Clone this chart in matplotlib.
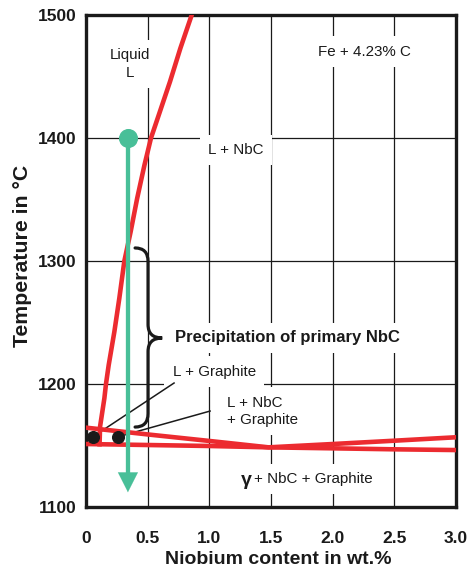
import numpy as np
import matplotlib.pyplot as plt
from matplotlib.path import Path
from matplotlib.patches import PathPatch

# liquidus (primary NbC) line, Nb wt.% vs temperature
liq_nb = [0.11, 0.114, 0.149, 0.162, 0.184, 0.230, 0.270, 0.311, 0.362,
          0.415, 0.474, 0.527, 0.590, 0.681, 0.765, 0.857]
liq_T = [1151, 1165.3, 1188.4, 1200, 1215.4, 1242.5, 1269.6, 1300, 1323.8,
         1351, 1378, 1400, 1418.7, 1445.8, 1472.9, 1500]

# the two eutectic lines near 1150 C
eut_nb = [0, 0.5, 1.0, 1.48, 2.0, 2.5, 3.0]
eutA_T = [1164.5, 1159, 1153.7, 1148.5, 1147.7, 1146.9, 1146.3]
eutB_T = [1151.2, 1150.4, 1149.6, 1148.5, 1151.2, 1153.9, 1156.7]

# cooling path of the alloy
path_nb = 0.34
path_start = 1400
path_end = 1112

# marked points and the labels they point to
dots_nb = [0.054, 0.257]
dots_T = [1157, 1157]
leader_nb = [0.714, 1.006]
leader_T = [1200.8, 1178]

# brace for "precipitation of primary NbC"
brace_nb = 0.503
brace_top = 1310.6
brace_bot = 1165
brace_mid = 1237.4

xticks = [0, 0.5, 1.0, 1.5, 2.0, 2.5, 3.0]
xticklabels = ['0', '0.5', '1.0', '1.5', '2.0', '2.5', '3.0']
yticks = [1100, 1200, 1300, 1400, 1500]

RED = '#EC2B30'
GREEN = '#48BF98'
INK = '#1A1A1A'
FONT = ['Liberation Sans', 'DejaVu Sans']

fig = plt.figure(figsize=(4.73, 5.74), dpi=100)
ax = fig.add_axes([86 / 473, 1 - 507 / 574, 370 / 473, 492 / 574])
ax.set_xlim(0, 3.0)
ax.set_ylim(1100, 1500)

# grid only on inner lines
for x in xticks[1:-1]:
    ax.axvline(x, color=INK, lw=0.9, zorder=0.5)
for y in yticks[1:-1]:
    ax.axhline(y, color=INK, lw=0.9, zorder=0.5)

for s in ax.spines.values():
    s.set_linewidth(2.4)
    s.set_color(INK)

ax.set_xticks(xticks)
ax.set_xticklabels(xticklabels)
ax.set_yticks(yticks)
ax.tick_params(length=0)
ax.tick_params(axis='x', pad=17)
ax.tick_params(axis='y', pad=7)
for lab in ax.get_xticklabels() + ax.get_yticklabels():
    lab.set_family(FONT)
    lab.set_fontweight('bold')
    lab.set_fontsize(12.5)
    lab.set_color(INK)

# phase boundaries
ax.plot(liq_nb, liq_T, color=RED, lw=3.3, solid_joinstyle='round', zorder=3)
ax.plot(eut_nb, eutA_T, color=RED, lw=3.3, solid_joinstyle='round', zorder=3)
ax.plot(eut_nb, eutB_T, color=RED, lw=3.3, solid_joinstyle='round', zorder=3)

# leader lines and dots
for xd, yd, xl, yl in zip(dots_nb, dots_T, leader_nb, leader_T):
    ax.plot([xd, xl], [yd, yl], color=INK, lw=1.1, zorder=2.5)
ax.plot(dots_nb, dots_T, 'o', color=INK, ms=8.4, zorder=4)

# brace
h = 0.105   # hook width in Nb
t = 0.115   # tip width in Nb
r = 11.0    # curve radius in C
verts = [(brace_nb - h, brace_top), (brace_nb, brace_top), (brace_nb, brace_top - r),
         (brace_nb, brace_mid + r),
         (brace_nb, brace_mid), (brace_nb + t, brace_mid),
         (brace_nb, brace_mid), (brace_nb, brace_mid - r),
         (brace_nb, brace_bot + r),
         (brace_nb, brace_bot), (brace_nb - h, brace_bot)]
codes = [Path.MOVETO, Path.CURVE3, Path.CURVE3, Path.LINETO,
         Path.CURVE3, Path.CURVE3, Path.CURVE3, Path.CURVE3,
         Path.LINETO, Path.CURVE3, Path.CURVE3]
ax.add_patch(PathPatch(Path(verts, codes), fill=False, ec=INK, lw=2.3,
                       capstyle='round', zorder=2.5))

# cooling arrow
head = 16
ax.plot([path_nb, path_nb], [path_start, path_end + head], color=GREEN, lw=3.1, zorder=5)
ax.annotate('', xy=(path_nb, path_end), xytext=(path_nb, path_end + head),
            arrowprops=dict(arrowstyle='-|>,head_length=1.42,head_width=0.72',
                            color=GREEN, lw=0.1, shrinkA=0, shrinkB=0),
            zorder=5)
ax.plot([path_nb], [path_start], 'o', color=GREEN, ms=12.7, zorder=6)

box = dict(boxstyle='square,pad=0.55', fc='white', ec='none')
lab_kw = dict(family=FONT, fontsize=10.9, color=INK, zorder=1.5, bbox=box)

ax.text(0.357, 1460.2, 'Liquid\nL', ha='center', va='center', linespacing=1.35, **lab_kw)
ax.text(1.217, 1390.2, 'L + NbC', ha='center', va='center', **lab_kw)
ax.text(2.255, 1470.2, 'Fe + 4.23% C', ha='center', va='center', **lab_kw)
ax.text(0.703, 1210, 'L + Graphite', ha='left', va='center', **lab_kw)
ax.text(1.144, 1177.9, 'L + NbC\n+ Graphite', ha='left', va='center', linespacing=1.3, **lab_kw)
ax.text(1.363, 1122.8, '+ NbC + Graphite', ha='left', va='center', **lab_kw)
ax.text(1.255, 1121.5, 'γ', ha='left', va='center', family=FONT, fontsize=14,
        fontweight='bold', color=INK, zorder=1.6)
ax.text(0.722, 1237.6, 'Precipitation of primary NbC', ha='left', va='center',
        family=FONT, fontsize=12, fontweight='bold', color=INK, zorder=1.5,
        bbox=dict(boxstyle='square,pad=0.45', fc='white', ec='none'))

fig.text(22 / 473, 1 - 256 / 574, 'Temperature in °C', rotation=90, ha='center', va='center',
         family=FONT, fontweight='bold', fontsize=15.3, color=INK)
fig.text(278 / 473, 1 - 560 / 574, 'Niobium content in wt.%', ha='center', va='center',
         family=FONT, fontweight='bold', fontsize=14, color=INK)

fig.savefig('out.png', dpi=100)
